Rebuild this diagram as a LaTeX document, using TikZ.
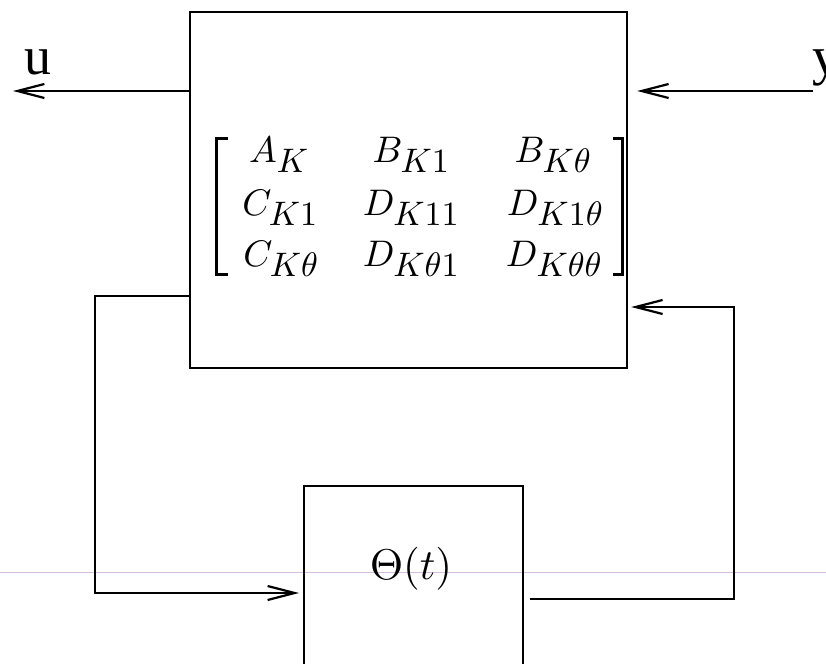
\RequirePackage{fix-cm}
\documentclass[tikz,border=0pt]{standalone}
\usepackage[no-math]{fontspec}
\newfontfamily\timesfont{Liberation Serif}
\usetikzlibrary{arrows.meta}
\DeclareFontShape{OML}{cmm}{m}{it}{<-> cmmi10}{}
\DeclareFontShape{OT1}{cmr}{m}{n}{<-> cmr10}{}
\DeclareMathSizes{37}{37}{34}{27}
\DeclareMathSizes{43}{43}{34}{27}
\definecolor{guide}{RGB}{214,188,222}
\begin{document}
\begin{tikzpicture}[x=1pt,y=-1pt,
  line width=2.2pt,
  box/.style={draw, line width=2.2pt, inner sep=0pt, anchor=north west},
  arr/.style={-{Straight Barb[length=27pt,width=14pt]}, line width=2.2pt},
  ent/.style={anchor=base, inner sep=0pt, font=\fontsize{37}{44}\selectfont},
  brk/.style={line width=3pt},
  io/.style={anchor=base west, inner sep=0pt, font=\timesfont\fontsize{54}{60}\selectfont}]
\useasboundingbox (0,0) rectangle (826,663);
% guide line
\draw[guide, line width=0.9pt] (0,572) -- (826,572);
% boxes
\node[box, minimum width=437pt, minimum height=356pt] (K) at (189,11) {};
\node[box, minimum width=219pt, minimum height=230pt] (T) at (303,485) {};
\node[anchor=base, inner sep=0pt, font=\fontsize{43}{50}\selectfont] (Tlab) at (411,579) {$\Theta(t)$};
% matrix
\node[ent] (m11) at (279,162) {$A_K$};
\node[ent] (m12) at (411,162) {$B_{K1}$};
\node[ent] (m13) at (553,162) {$B_{K\theta}$};
\node[ent] (m21) at (280,215) {$C_{K1}$};
\node[ent] (m22) at (411,215) {$D_{K11}$};
\node[ent] (m23) at (555,215) {$D_{K1\theta}$};
\node[ent] (m31) at (281,266) {$C_{K\theta}$};
\node[ent] (m32) at (411,266) {$D_{K\theta1}$};
\node[ent] (m33) at (554,266) {$D_{K\theta\theta}$};
\draw[brk] (228,139) -- (216,139) -- (216,274) -- (228,274);
\draw[brk] (613,139) -- (622,139) -- (622,274) -- (613,274);
% labels
\node[io] (u) at (23,75) {u};
\node[io] (y) at (811,75) {y};
% connectors
\coordinate (uend) at (13,91);
\coordinate (ystart) at (813,91);
\draw[arr] (K.west |- uend) -- (uend);
\draw[arr] (ystart) -- ([xshift=9pt]K.east |- ystart);
\draw[arr] (K.west |- 0,296) -- (95,296) |- ([xshift=-4pt]T.west |- 0,593);
\draw[arr] ([xshift=6pt]T.east |- 0,599) -- (734,599) |- ([xshift=3pt]K.east |- 0,307);
\end{tikzpicture}
\end{document}
